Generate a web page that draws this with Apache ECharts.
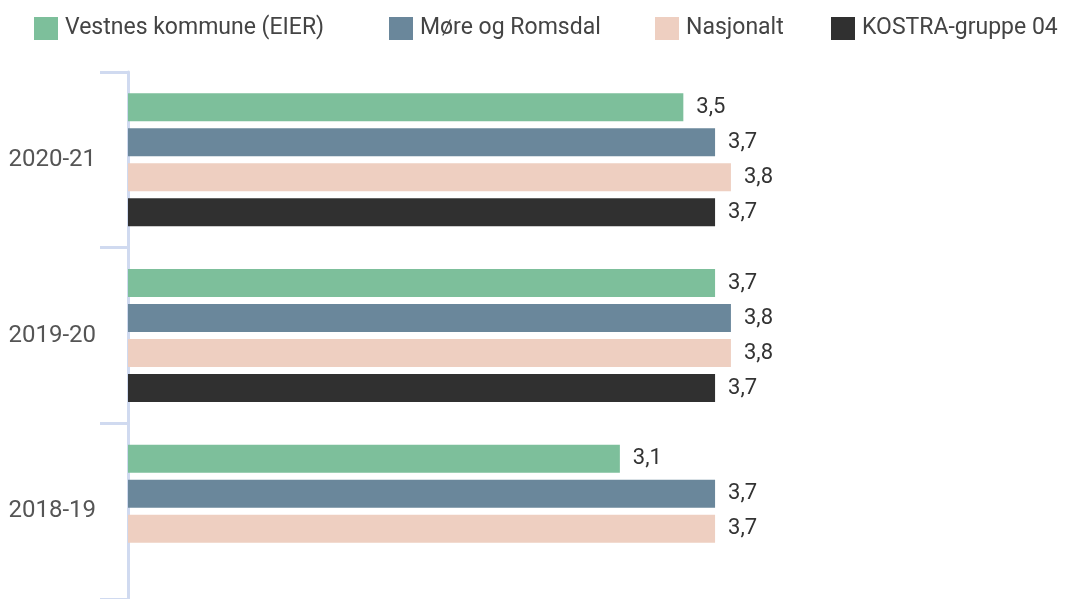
<!DOCTYPE html>
<html>
<head>
<meta charset="utf-8">
<script src="https://cdn.jsdelivr.net/npm/echarts@6/dist/echarts.min.js"></script>
<style>
    html, body { margin: 0; padding: 0; background: #fff; }
    #main { width: 1086px; height: 599px; }
</style>
</head>
<body>
<div id="main"></div>
<script>
// kategorier (topp til bunn)
const years = ['2020-21', '2019-20', '2018-19'];

// verdier per serie
const vestnes = [3.5, 3.7, 3.1];
const moreRomsdal = [3.7, 3.8, 3.7];
const nasjonalt = [3.8, 3.8, 3.7];
const kostra = [3.7, 3.7, null];

const names = ['Vestnes kommune (EIER)', 'Møre og Romsdal', 'Nasjonalt', 'KOSTRA-gruppe 04'];
const colors = ['#7dbf9b', '#6a879b', '#eecfc1', '#303030'];

// legend-posisjoner (venstre kant)
const legendLeft = [29, 384, 650, 826];

let chart = echarts.init(document.getElementById('main'));

function makeSeries(name, data, color) {
    return {
        name: name,
        type: 'bar',
        data: data,
        barWidth: 28,
        barGap: '25%',
        itemStyle: { color: color },
        label: {
            show: true,
            position: 'right',
            distance: 13,
            color: '#333',
            fontSize: 22,
            fontFamily: 'Roboto',
            formatter: function (p) {
                return p.value == null ? '' : p.value.toFixed(1).replace('.', ',');
            }
        }
    };
}

//en legend per serie for å treffe plasseringen
let legends = names.map(function (n, i) {
    return {
        left: legendLeft[i],
        top: 12,
        itemWidth: 24,
        itemHeight: 23,
        icon: 'rect',
        textStyle: {
            fontSize: 23,
            fontFamily: 'Roboto',
            color: '#444',
            padding: [0, 0, 0, 2]
        },
        data: [n]
    };
});

chart.setOption({
    animation: false,
    legend: legends,
    grid: {
        left: 128,
        right: 6,
        top: 72,
        bottom: 0
    },
    xAxis: {
        type: 'value',
        min: 0,
        max: 6,
        show: false
    },
    yAxis: {
        type: 'category',
        inverse: true,
        data: years,
        axisLine: { show: true, lineStyle: { color: '#d0daf0', width: 3 } },
        axisTick: { show: true, length: 28, lineStyle: { color: '#d0daf0', width: 3 } },
        axisLabel: {
            margin: 32,
            fontSize: 24,
            fontFamily: 'Roboto',
            color: '#555'
        }
    },
    series: [
        makeSeries(names[0], vestnes, colors[0]),
        makeSeries(names[1], moreRomsdal, colors[1]),
        makeSeries(names[2], nasjonalt, colors[2]),
        makeSeries(names[3], kostra, colors[3])
    ]
});
</script>
</body>
</html>
